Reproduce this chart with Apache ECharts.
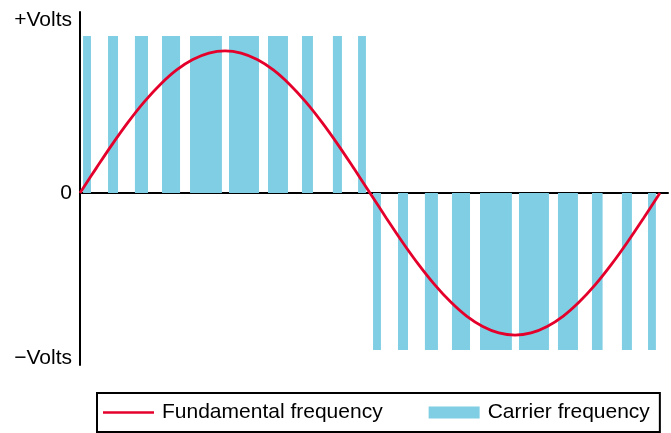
<!DOCTYPE html>
<html><head><meta charset="utf-8">
<script src="https://cdn.jsdelivr.net/npm/echarts@6/dist/echarts.min.js"></script>
<style>html,body{margin:0;padding:0;background:#fff}#c{width:671px;height:433px}</style>
</head><body><div id="c"></div>
<script>
// Carrier (PWM) pulses: start angle, end angle (degrees), level (+1 / -1)
const pulseStart = [1.9, 17.4, 34.1, 50.9, 68.3, 92.5, 116.7, 137.8, 157.0, 172.6,
                    181.9, 197.4, 214.1, 230.9, 248.3, 272.5, 296.7, 317.8, 336.4, 352.6];
const pulseEnd   = [6.8, 23.6, 42.2, 62.1, 88.1, 111.1, 129.1, 144.6, 162.6, 177.5,
                    186.8, 203.6, 222.2, 242.1, 268.1, 291.1, 309.1, 324.4, 342.6, 357.5];
const pulseLevel = [1,1,1,1,1,1,1,1,1,1, -1,-1,-1,-1,-1,-1,-1,-1,-1,-1];
// Fundamental wave (angle in degrees, value)
const fundAngle = [0,10,20,30,40,50,60,70,80,90,100,110,120,130,140,150,160,170,180,
                   190,200,210,220,230,240,250,260,270,280,290,300,310,320,330,340,350,360];
const fundValue = [0,0.157,0.310,0.453,0.582,0.693,0.784,0.850,0.891,0.905,0.891,0.850,0.784,0.693,0.582,0.453,0.310,0.157,0,
                   -0.157,-0.310,-0.453,-0.582,-0.693,-0.784,-0.850,-0.891,-0.905,-0.891,-0.850,-0.784,-0.693,-0.582,-0.453,-0.310,-0.157,0];
const yLabelValues = [1.10, 0, -1.05];
const yLabelTexts = ['+Volts', '0', '\u2212Volts'];

const chart = echarts.init(document.getElementById('c'), null, {renderer:'canvas'});
const pulses = pulseStart.map((s,i)=>[s, pulseEnd[i], pulseLevel[i]]);
const fund = fundAngle.map((a,i)=>[a, fundValue[i]]);
const FONT = 'Liberation Sans, Arial, Helvetica, sans-serif';
chart.setOption({
  animation:false,
  grid:{left:80, right:3, top:12, bottom:68, containLabel:false},
  xAxis:{type:'value', min:0, max:365, axisLine:{onZero:true, lineStyle:{color:'#000', width:2}},
    axisTick:{show:false}, axisLabel:{show:false}, splitLine:{show:false}},
  yAxis:{type:'value', min:-1.0955, max:1.1529,
    axisLine:{show:true, lineStyle:{color:'#000', width:2}}, axisTick:{show:false}, splitLine:{show:false},
    axisLabel:{customValues:yLabelValues, margin:8, color:'#000', fontSize:21, fontFamily:FONT,
      formatter:function(v){ let k=-1; yLabelValues.forEach((y,i)=>{ if(Math.abs(y-v)<1e-6) k=i; }); return k>=0?yLabelTexts[k]:''; }}},
  legend:{left:97, top:393, orient:'horizontal', borderColor:'#000', borderWidth:2, padding:[9,10,9,6],
    itemGap:46, itemWidth:51, itemHeight:12, symbolKeepAspect:true,
    textStyle:{fontSize:21, color:'#000', fontFamily:FONT, padding:[0,0,0,3]},
    data:[{name:'Fundamental frequency', icon:'path://M0,0L52,0L52,2.5L0,2.5Z'}, {name:'Carrier frequency', icon:'rect'}]},
  series:[
    {name:'Carrier frequency', type:'custom', data:pulses, itemStyle:{color:'#7FCEE3'},
      encode:{x:[0,1], y:2},
      renderItem:function(params, api){
        const p1 = api.coord([api.value(0), api.value(2)]);
        const p2 = api.coord([api.value(1), 0]);
        const x = Math.min(p1[0],p2[0]), y = Math.min(p1[1],p2[1]);
        return {type:'rect', shape:{x:x, y:y, width:Math.abs(p2[0]-p1[0]), height:Math.abs(p2[1]-p1[1])},
          style:{fill:'#7FCEE3'}};
      }, z:1},
    {name:'Fundamental frequency', type:'line', data:fund, smooth:0.4, symbol:'none',
      lineStyle:{color:'#E4002B', width:2.8}, itemStyle:{color:'#E4002B'}, z:3}
  ]
});
</script></body></html>
